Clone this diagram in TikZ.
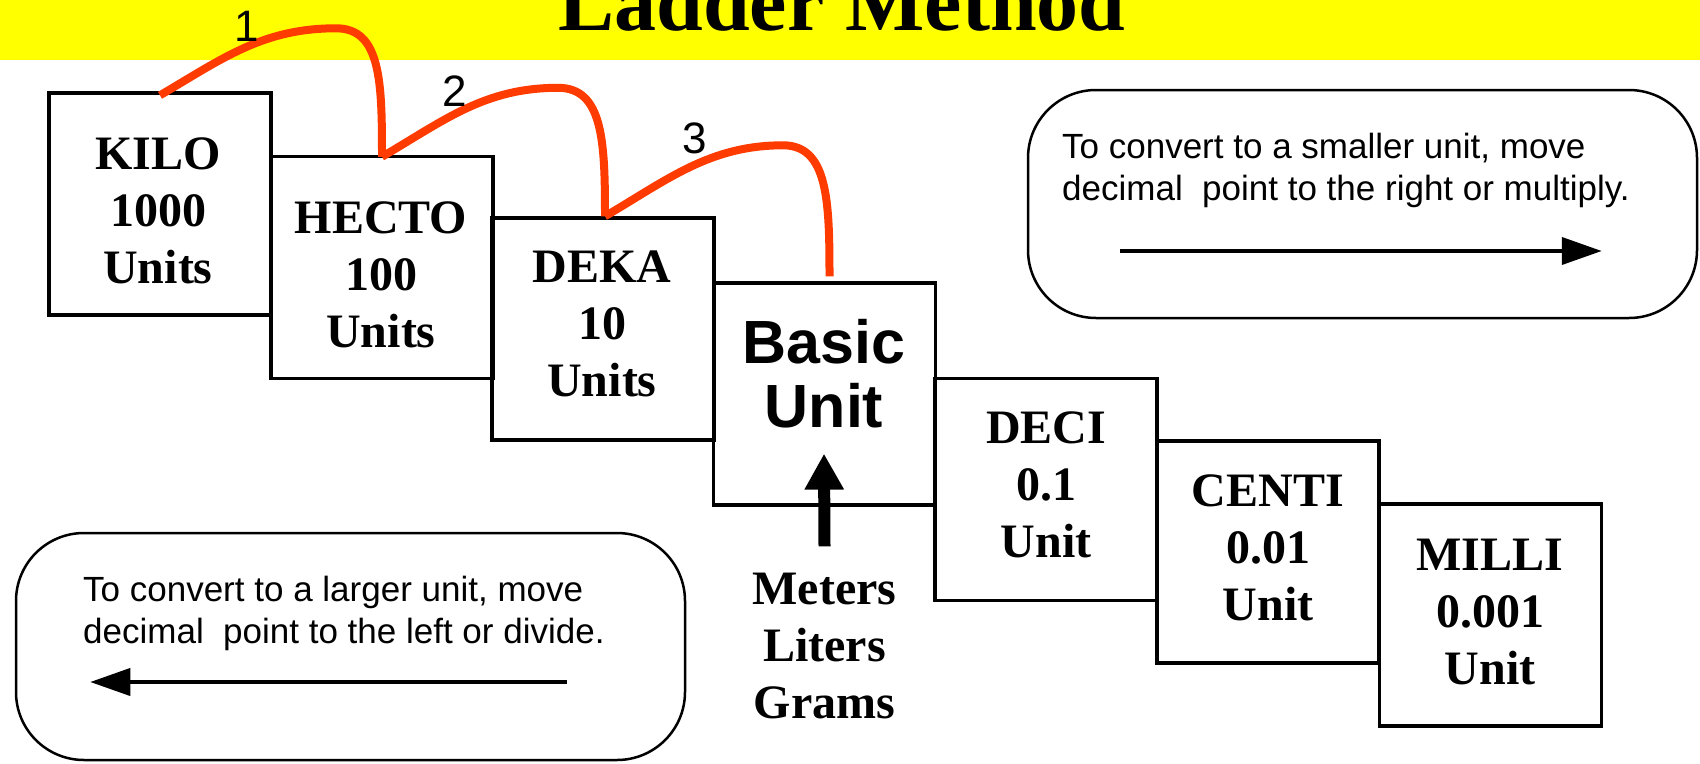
\documentclass[tikz,border=0pt]{standalone}
\usepackage{fontspec}
\setmainfont{Liberation Serif}
\newfontfamily\sansf{Liberation Sans}
\usetikzlibrary{arrows.meta,calc}
\definecolor{banner}{rgb}{1,1,0}
\definecolor{curvered}{RGB}{255,59,0}
\begin{document}
\begin{tikzpicture}[x=1pt,y=-1pt,
  ladderbox/.style={draw=black,line width=3.4pt,minimum width=222pt,minimum height=222pt,inner sep=0pt},
  laddertext/.style={font=\fontsize{48}{57}\selectfont\bfseries,align=center,inner sep=0pt},
  basictext/.style={font=\sansf\bfseries\fontsize{61}{64}\selectfont,align=center,inner sep=0pt},
  notebox/.style={draw=black,line width=2.5pt,rounded corners=68pt,minimum width=669pt,minimum height=228pt,inner sep=0pt},
  notetext/.style={font=\sansf\fontsize{35}{42}\selectfont,align=left,inner sep=0pt,anchor=west},
  jump/.style={draw=curvered,line width=8pt},
  jumplabel/.style={font=\sansf\fontsize{44}{44}\selectfont,inner sep=0pt},
  notearrow/.style={line width=4pt,-{Triangle[length=40pt,width=27pt]}},
  uparrow/.style={line width=12pt,-{Triangle[length=36pt,width=37pt]}},
]
\clip (0,0) rectangle (1700,763);
\fill[white] (0,0) rectangle (1700,763);
\fill[banner] (0,0) rectangle (1700,60);
\node[font=\fontsize{84}{84}\selectfont\bfseries,anchor=base,inner sep=0pt] (title) at (842,30) {Ladder Method};

% ladder boxes
\node[ladderbox] (kilo)  at (160,204)   {};
\node[ladderbox] (hecto) at (382,267.5) {};
\node[ladderbox] (deka)  at (603,329)   {};
\node[ladderbox] (basic) at (824.5,394) {};
\node[ladderbox] (deci)  at (1046,489.5){};
\node[ladderbox] (centi) at (1268,552)  {};
\node[ladderbox] (milli) at (1490.5,615){};

\node[laddertext] (kilot)  at (158,211)   {KILO\\1000\\Units};
\node[laddertext] (hectot) at (381,275)   {HECTO\\100\\Units};
\node[laddertext] (dekat)  at (602,324)   {DEKA\\10\\Units};
\node[basictext]  (basict) at (824,374)   {Basic\\Unit};
\node[laddertext] (decit)  at (1046,484.5){DECI\\0.1\\Unit};
\node[laddertext] (centit) at (1268,548)  {CENTI\\0.01\\Unit};
\node[laddertext] (millit) at (1490,612)  {MILLI\\0.001\\Unit};
\node[laddertext] (meters) at (824.5,646.5){Meters\\Liters\\Grams};

\coordinate (upstart) at ($(meters.north)+(0,-27)$);
\coordinate (uptip) at ($(basict.south)+(0,25)$);
\draw[uparrow] (upstart) -- (uptip);

% jumps
\coordinate (j0) at ($(kilo.north)+(0,4)$);
\coordinate (j1) at ($(hecto.north)+(0,2)$);
\coordinate (j2) at ($(deka.north)+(2,0)$);
\coordinate (j3) at ($(basic.north)+(5,-5)$);
\coordinate (k1) at ($(j0)+(176,-67)$);
\coordinate (k2) at ($(j1)+(176,-69)$);
\coordinate (k3) at ($(j2)+(178,-71)$);
\draw[jump] (j0) .. controls +(63,-37) and +(-73,0) .. (k1) .. controls +(45,0) and +(0,-75) .. (j1);
\draw[jump] (j1) .. controls +(63,-37) and +(-73,0) .. (k2) .. controls +(45,0) and +(0,-75) .. (j2);
\draw[jump] (j2) .. controls +(63,-37) and +(-73,0) .. (k3) .. controls +(45,0) and +(0,-75) .. (j3);
\node[jumplabel] (n1) at (247,26)  {1};
\node[jumplabel] (n2) at (455,91)  {2};
\node[jumplabel] (n3) at (695,138) {3};

% note boxes
\node[notebox] (smaller) at (1362.5,204) {};
\node[notetext] (smallert) at (1062,170) {To convert to a smaller unit, move\\decimal~ point to the right or multiply.};
\coordinate (ra) at ($(smaller.west)+(93,47)$);
\coordinate (rb) at ($(smaller.west)+(575,47)$);
\draw[notearrow] (ra) -- (rb);

\node[notebox,minimum height=227pt] (larger) at (350.5,646.5) {};
\node[notetext] (largert) at (83,613.5) {To convert to a larger unit, move\\decimal~ point to the left or divide.};
\coordinate (la) at ($(larger.west)+(552,35.5)$);
\coordinate (lb) at ($(larger.west)+(75.5,35.5)$);
\draw[notearrow] (la) -- (lb);
\end{tikzpicture}
\end{document}
